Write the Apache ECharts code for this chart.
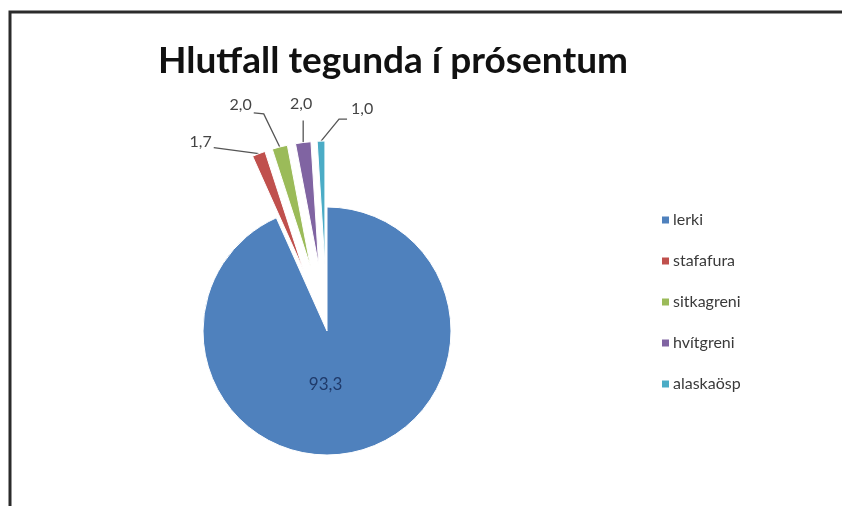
<!DOCTYPE html>
<html>
<head>
<meta charset="utf-8">
<script src="https://cdn.jsdelivr.net/npm/echarts@6/dist/echarts.min.js"></script>
<style>
html,body{margin:0;padding:0;background:#fff;}
#c{width:842px;height:506px;}
</style>
</head>
<body>
<div id="c"></div>
<script>
const titleText = "Hlutfall tegunda í prósentum";
const categories = ["lerki", "stafafura", "sitkagreni", "hvítgreni", "alaskaösp"];
const values = [93.3, 1.7, 2.0, 2.0, 1.0];
const colors = ["#4F81BD", "#C0504D", "#9BBB59", "#8064A2", "#4BACC6"];

const chart = echarts.init(document.getElementById('c'));
const data = categories.map((name, i) => {
  const item = { name: name, value: values[i], itemStyle: { color: colors[i] } };
  if (i === 0) {
    item.selected = false;
    item.label = { position: 'inside', color: '#1F3A6A', fontSize: 17 };
  } else {
    item.selected = true;
  }
  return item;
});

// shift a label so that its anchor (by align) lands at (tx, ty)
function shiftTo(r, tx, ty, align) {
  let ax = r.x + r.width / 2;
  if (align === 'right') ax = r.x + r.width;
  if (align === 'left') ax = r.x;
  const ay = r.y + r.height / 2;
  return { dx: tx - ax, dy: ty - ay };
}

// leader-line bends relative to the slice edge point
function layoutLabel(params) {
  const i = params.dataIndex;
  if (i === 0) return { dx: -15, dy: -10 };
  const pts = params.labelLinePoints;
  const r = params.labelRect;
  if (!pts || !pts.length) return {};
  const p = pts[0];
  let out;
  if (i === 1) {
    out = shiftTo(r, p[0] - 47, p[1] - 12, 'right');
    out.labelLinePoints = [[p[0], p[1]], [p[0] - 45, p[1] - 6], [p[0] - 45, p[1] - 6]];
  } else if (i === 2) {
    out = shiftTo(r, p[0] - 28, p[1] - 42, 'right');
    out.labelLinePoints = [[p[0], p[1]], [p[0] - 16, p[1] - 33], [p[0] - 26, p[1] - 34]];
  } else if (i === 3) {
    out = shiftTo(r, p[0] - 2, p[1] - 39, 'center');
    out.labelLinePoints = [[p[0], p[1]], [p[0], p[1] - 22], [p[0], p[1] - 22]];
  } else {
    out = shiftTo(r, p[0] + 30, p[1] - 32, 'left');
    out.labelLinePoints = [[p[0], p[1]], [p[0] + 18, p[1] - 22], [p[0] + 26, p[1] - 22]];
  }
  return out;
}

chart.setOption({
  animation: false,
  title: {
    text: titleText,
    left: 153,
    top: 38,
    textStyle: { fontFamily: 'Lato', fontWeight: 'bold', fontSize: 37, color: '#111' }
  },
  legend: {
    orient: 'vertical',
    left: 655,
    top: 207,
    itemWidth: 9,
    itemHeight: 9,
    itemGap: 25,
    icon: 'rect',
    selectedMode: false,
    textStyle: { fontFamily: 'Lato', fontSize: 16, color: '#3a3a3a', padding: [0, 0, 0, -2] },
    data: categories
  },
  graphic: [
    { type: 'polyline', shape: { points: [[10, 520], [10, 12], [850, 12]] }, style: { fill: 'none', stroke: '#2b2b2b', lineWidth: 3 } }
  ],
  series: [{
    type: 'pie',
    center: [327, 331],
    radius: 124,
    startAngle: 90,
    clockwise: true,
    selectedMode: 'multiple',
    selectedOffset: 66,
    emphasis: { disabled: true },
    label: {
      show: true,
      position: 'outside',
      fontFamily: 'Lato',
      fontSize: 16,
      color: '#444',
      formatter: p => p.value.toFixed(1).replace('.', ',')
    },
    labelLine: { show: true, length: 12, length2: 18, lineStyle: { color: '#555', width: 1.3 } },
    labelLayout: layoutLabel,
    itemStyle: { borderColor: '#fff', borderWidth: 1 },
    data: data
  }]
});
</script>
</body>
</html>
